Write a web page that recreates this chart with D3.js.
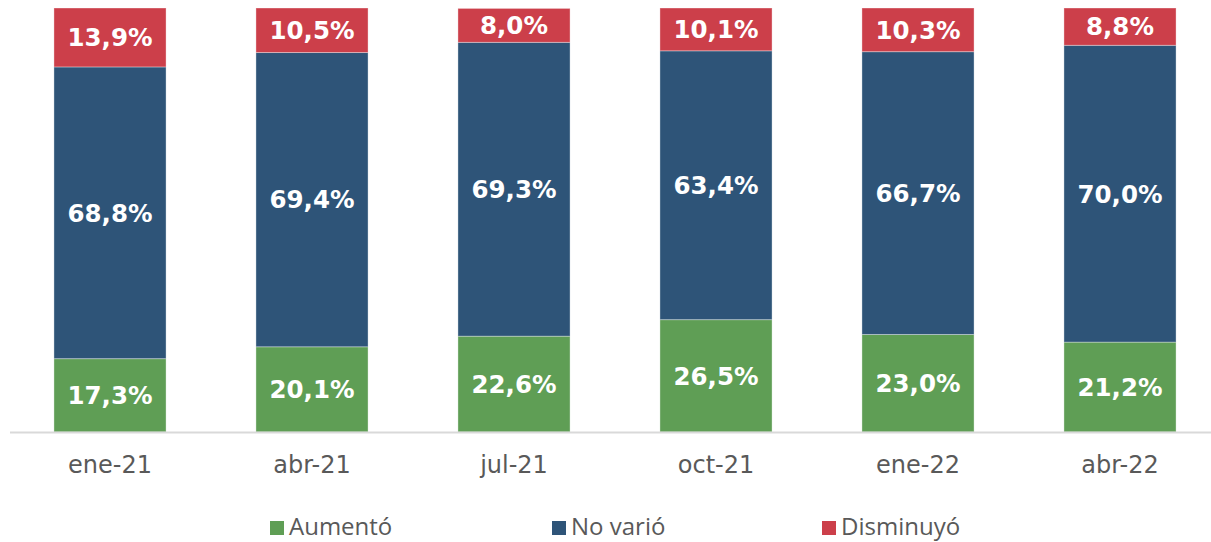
<!DOCTYPE html>
<html>
<head>
<meta charset="utf-8">
<script src="https://cdn.jsdelivr.net/npm/d3@7"></script>
<style>
  body { margin: 0; background: #fff; }
  svg { display: block; }
</style>
</head>
<body>
<svg width="1211" height="542"></svg>
<script>
// data
const months = ["ene-21", "abr-21", "jul-21", "oct-21", "ene-22", "abr-22"];
const aumento = [17.3, 20.1, 22.6, 26.5, 23.0, 21.2];
const noVario = [68.8, 69.4, 69.3, 63.4, 66.7, 70.0];
const disminuyo = [13.9, 10.5, 8.0, 10.1, 10.3, 8.8];
const seriesNames = ["Aumentó", "No varió", "Disminuyó"];

const colors = {"Aumentó": "#5f9e55", "No varió": "#2e5478", "Disminuyó": "#cc3f4a"};

const svg = d3.select("svg");
const plotTop = 8, plotBase = 432;

// build rows for d3.stack
const rows = months.map((m, i) => ({
  month: m,
  "Aumentó": aumento[i],
  "No varió": noVario[i],
  "Disminuyó": disminuyo[i]
}));
const stacked = d3.stack().keys(seriesNames)(rows);

const x = d3.scaleBand().domain(months).range([9, 1221])
  .paddingInner(0.445).paddingOuter(0.2225);
const y = d3.scaleLinear().domain([0, 100]).range([plotBase, plotTop]);

const fmt = v => v.toFixed(1).replace(".", ",") + "%";

const layers = svg.selectAll("g.layer")
  .data(stacked).enter()
  .append("g")
  .attr("class", "layer")
  .attr("fill", d => colors[d.key]);

layers.selectAll("rect")
  .data(d => d).enter()
  .append("rect")
  .attr("x", d => x(d.data.month))
  .attr("width", x.bandwidth())
  .attr("y", d => y(d[1]))
  .attr("height", d => y(d[0]) - y(d[1]))
  .attr("stroke", "rgba(255,255,255,0.35)")
  .attr("stroke-width", 1);

layers.selectAll("text")
  .data(d => d).enter()
  .append("text")
  .attr("x", d => x(d.data.month) + x.bandwidth() / 2)
  .attr("y", d => (y(d[0]) + y(d[1])) / 2)
  .attr("dy", "0.36em")
  .attr("text-anchor", "middle")
  .attr("fill", "#fff")
  .style("font-family", "Verdana, 'DejaVu Sans', sans-serif")
  .style("font-weight", "bold")
  .style("font-size", "24.5px")
  .text(d => fmt(d[1] - d[0]));

// baseline + category labels
const axis = svg.append("g")
  .attr("transform", `translate(0,${plotBase})`)
  .call(d3.axisBottom(x).tickSize(0).tickPadding(24));
axis.select(".domain").attr("stroke", "#d9d9d9").attr("stroke-width", 2)
  .attr("d", "M10,0.5H1211");
axis.selectAll("text")
  .attr("fill", "#595959")
  .style("font-family", "Verdana, 'DejaVu Sans', sans-serif")
  .style("font-size", "24px");

// legend
const legendX = [270, 552, 822];
const legend = svg.selectAll("g.leg")
  .data(seriesNames).enter()
  .append("g")
  .attr("class", "leg")
  .attr("transform", (d, i) => `translate(${legendX[i]},521)`);
legend.append("rect")
  .attr("width", 14).attr("height", 14)
  .attr("fill", d => colors[d]);
legend.append("text")
  .attr("x", 19).attr("y", 14)
  .attr("fill", "#595959")
  .style("font-family", "'Open Sans', 'DejaVu Sans', sans-serif")
  .style("font-size", "24px")
  .text(d => d);
</script>
</body>
</html>
